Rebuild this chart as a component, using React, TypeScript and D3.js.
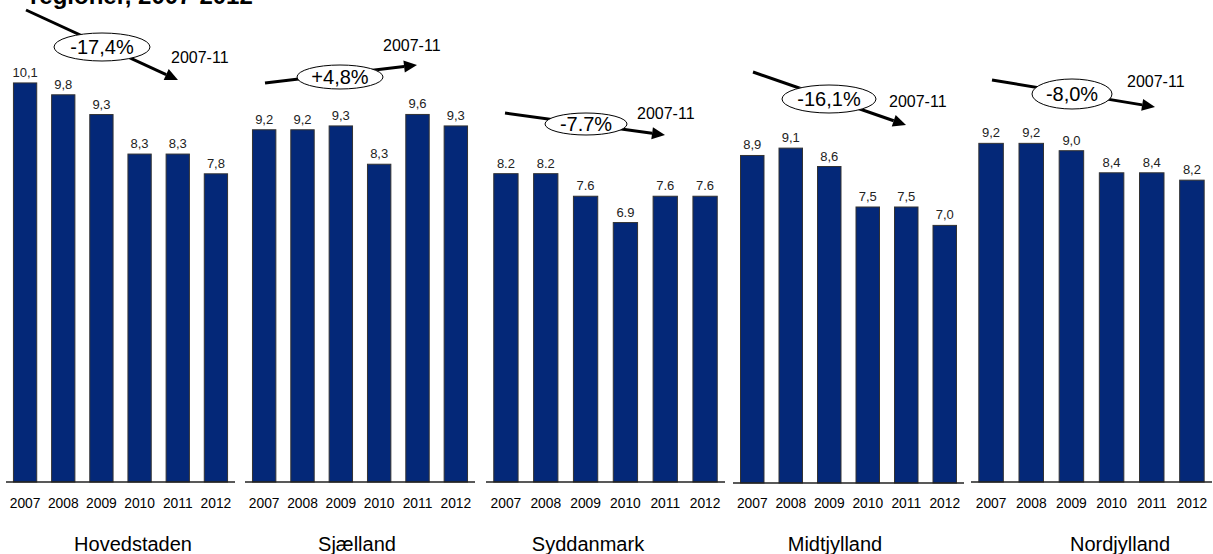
import React from "react";
import * as d3 from "d3";

const years = ["2007", "2008", "2009", "2010", "2011", "2012"];
const regions = ["Hovedstaden", "Sjælland", "Syddanmark", "Midtjylland", "Nordjylland"];
const hovedstaden = [10.1, 9.8, 9.3, 8.3, 8.3, 7.8];
const sjaelland = [9.2, 9.2, 9.3, 8.3, 9.6, 9.3];
const syddanmark = [8.2, 8.2, 7.6, 6.9, 7.6, 7.6];
const midtjylland = [8.9, 9.1, 8.6, 7.5, 7.5, 7.0];
const nordjylland = [9.2, 9.2, 9.0, 8.4, 8.4, 8.2];
const seriesValues = [hovedstaden, sjaelland, syddanmark, midtjylland, nordjylland];
const decimalSeparators = [",", ",", ".", ",", ","];
const axisMax = [10.63, 10.97, 11.17, 11.44, 11.41];
const changeLabels = ["-17,4%", "+4,8%", "-7.7%", "-16,1%", "-8,0%"];
const periodLabel = "2007-11";
const titleText = "regioner, 2007-2012";

// layout (positions only)
const panels = [
  { x0: 6, x1: 235, base: 482, labelX: 133,
    arrow: [26, 10, 178, 80], ell: [102, 47, 48, 14], period: [171, 63] },
  { x0: 245, x1: 475, base: 482, labelX: 357,
    arrow: [265, 83, 417, 65], ell: [340, 77, 43, 12], period: [383, 51] },
  { x0: 486, x1: 725, base: 482, labelX: 588,
    arrow: [505, 113, 665, 135], ell: [586, 124, 41, 11], period: [637, 119] },
  { x0: 733, x1: 964, base: 483, labelX: 835,
    arrow: [753, 72, 906, 125], ell: [829, 99, 47, 14], period: [889, 107] },
  { x0: 971, x1: 1212, base: 482, labelX: 1120,
    arrow: [992, 80, 1155, 107], ell: [1072, 94, 40, 15], period: [1127, 87] },
];

const FONT = "'Liberation Sans', Arial, sans-serif";
const BAR = "#042878";
const TOP = 62;

function arrowHead(x0: number, y0: number, x1: number, y1: number) {
  const dx = x1 - x0, dy = y1 - y0;
  const L = Math.hypot(dx, dy);
  const ux = dx / L, uy = dy / L;
  const len = 13, half = 6;
  const bx = x1 - ux * len, by = y1 - uy * len;
  const p = [
    [x1, y1],
    [bx - uy * half, by + ux * half],
    [bx + uy * half, by - ux * half],
  ];
  return { points: p.map((q) => q.join(",")).join(" "), bx, by };
}

export default function App() {
  return (
    <svg
      width={1213}
      height={554}
      style={{ position: "absolute", left: 0, top: 0, background: "#fff" }}
      fontFamily={FONT}
    >
      <text x={30} y={4} fontSize={24} fontWeight="bold" fill="#000">
        {titleText}
      </text>
      {panels.map((p, i) => {
        const vals = seriesValues[i];
        const x = d3.scaleBand<string>().domain(years).range([p.x0, p.x1]).paddingInner(0.39).paddingOuter(0.195);
        const y = d3.scaleLinear().domain([0, axisMax[i]]).range([p.base, TOP]);
        const fmt = (v: number) => d3.format(".1f")(v).replace(".", decimalSeparators[i]);
        const [ax0, ay0, ax1, ay1] = p.arrow;
        const head = arrowHead(ax0, ay0, ax1, ay1);
        const [ecx, ecy, erx, ery] = p.ell;
        return (
          <g key={regions[i]}>
            {vals.map((v, j) => (
              <g key={years[j]}>
                <rect
                  x={x(years[j])}
                  y={y(v)}
                  width={x.bandwidth()}
                  height={y(0) - y(v)}
                  fill={BAR}
                  stroke="#333"
                  strokeWidth={1}
                />
                <text
                  x={(x(years[j]) as number) + x.bandwidth() / 2}
                  y={y(v) - 6}
                  textAnchor="middle"
                  fontSize={13}
                  fill="#222"
                >
                  {fmt(v)}
                </text>
                <text
                  x={(x(years[j]) as number) + x.bandwidth() / 2}
                  y={508}
                  textAnchor="middle"
                  fontSize={13.8}
                  fill="#000"
                >
                  {years[j]}
                </text>
              </g>
            ))}
            <line x1={p.x0} x2={p.x1} y1={y(0)} y2={y(0)} stroke="#222" strokeWidth={1.5} />
            <text x={p.labelX} y={551} textAnchor="middle" fontSize={20} fill="#000">
              {regions[i]}
            </text>
            <line x1={ax0} y1={ay0} x2={head.bx} y2={head.by} stroke="#000" strokeWidth={3} />
            <polygon points={head.points} fill="#000" />
            <ellipse cx={ecx} cy={ecy} rx={erx} ry={ery} fill="#fff" stroke="#000" strokeWidth={1} />
            <text x={ecx} y={ecy + 7} textAnchor="middle" fontSize={20} fill="#000">
              {changeLabels[i]}
            </text>
            <text x={p.period[0]} y={p.period[1]} fontSize={16} fill="#000">
              {periodLabel}
            </text>
          </g>
        );
      })}
    </svg>
  );
}
